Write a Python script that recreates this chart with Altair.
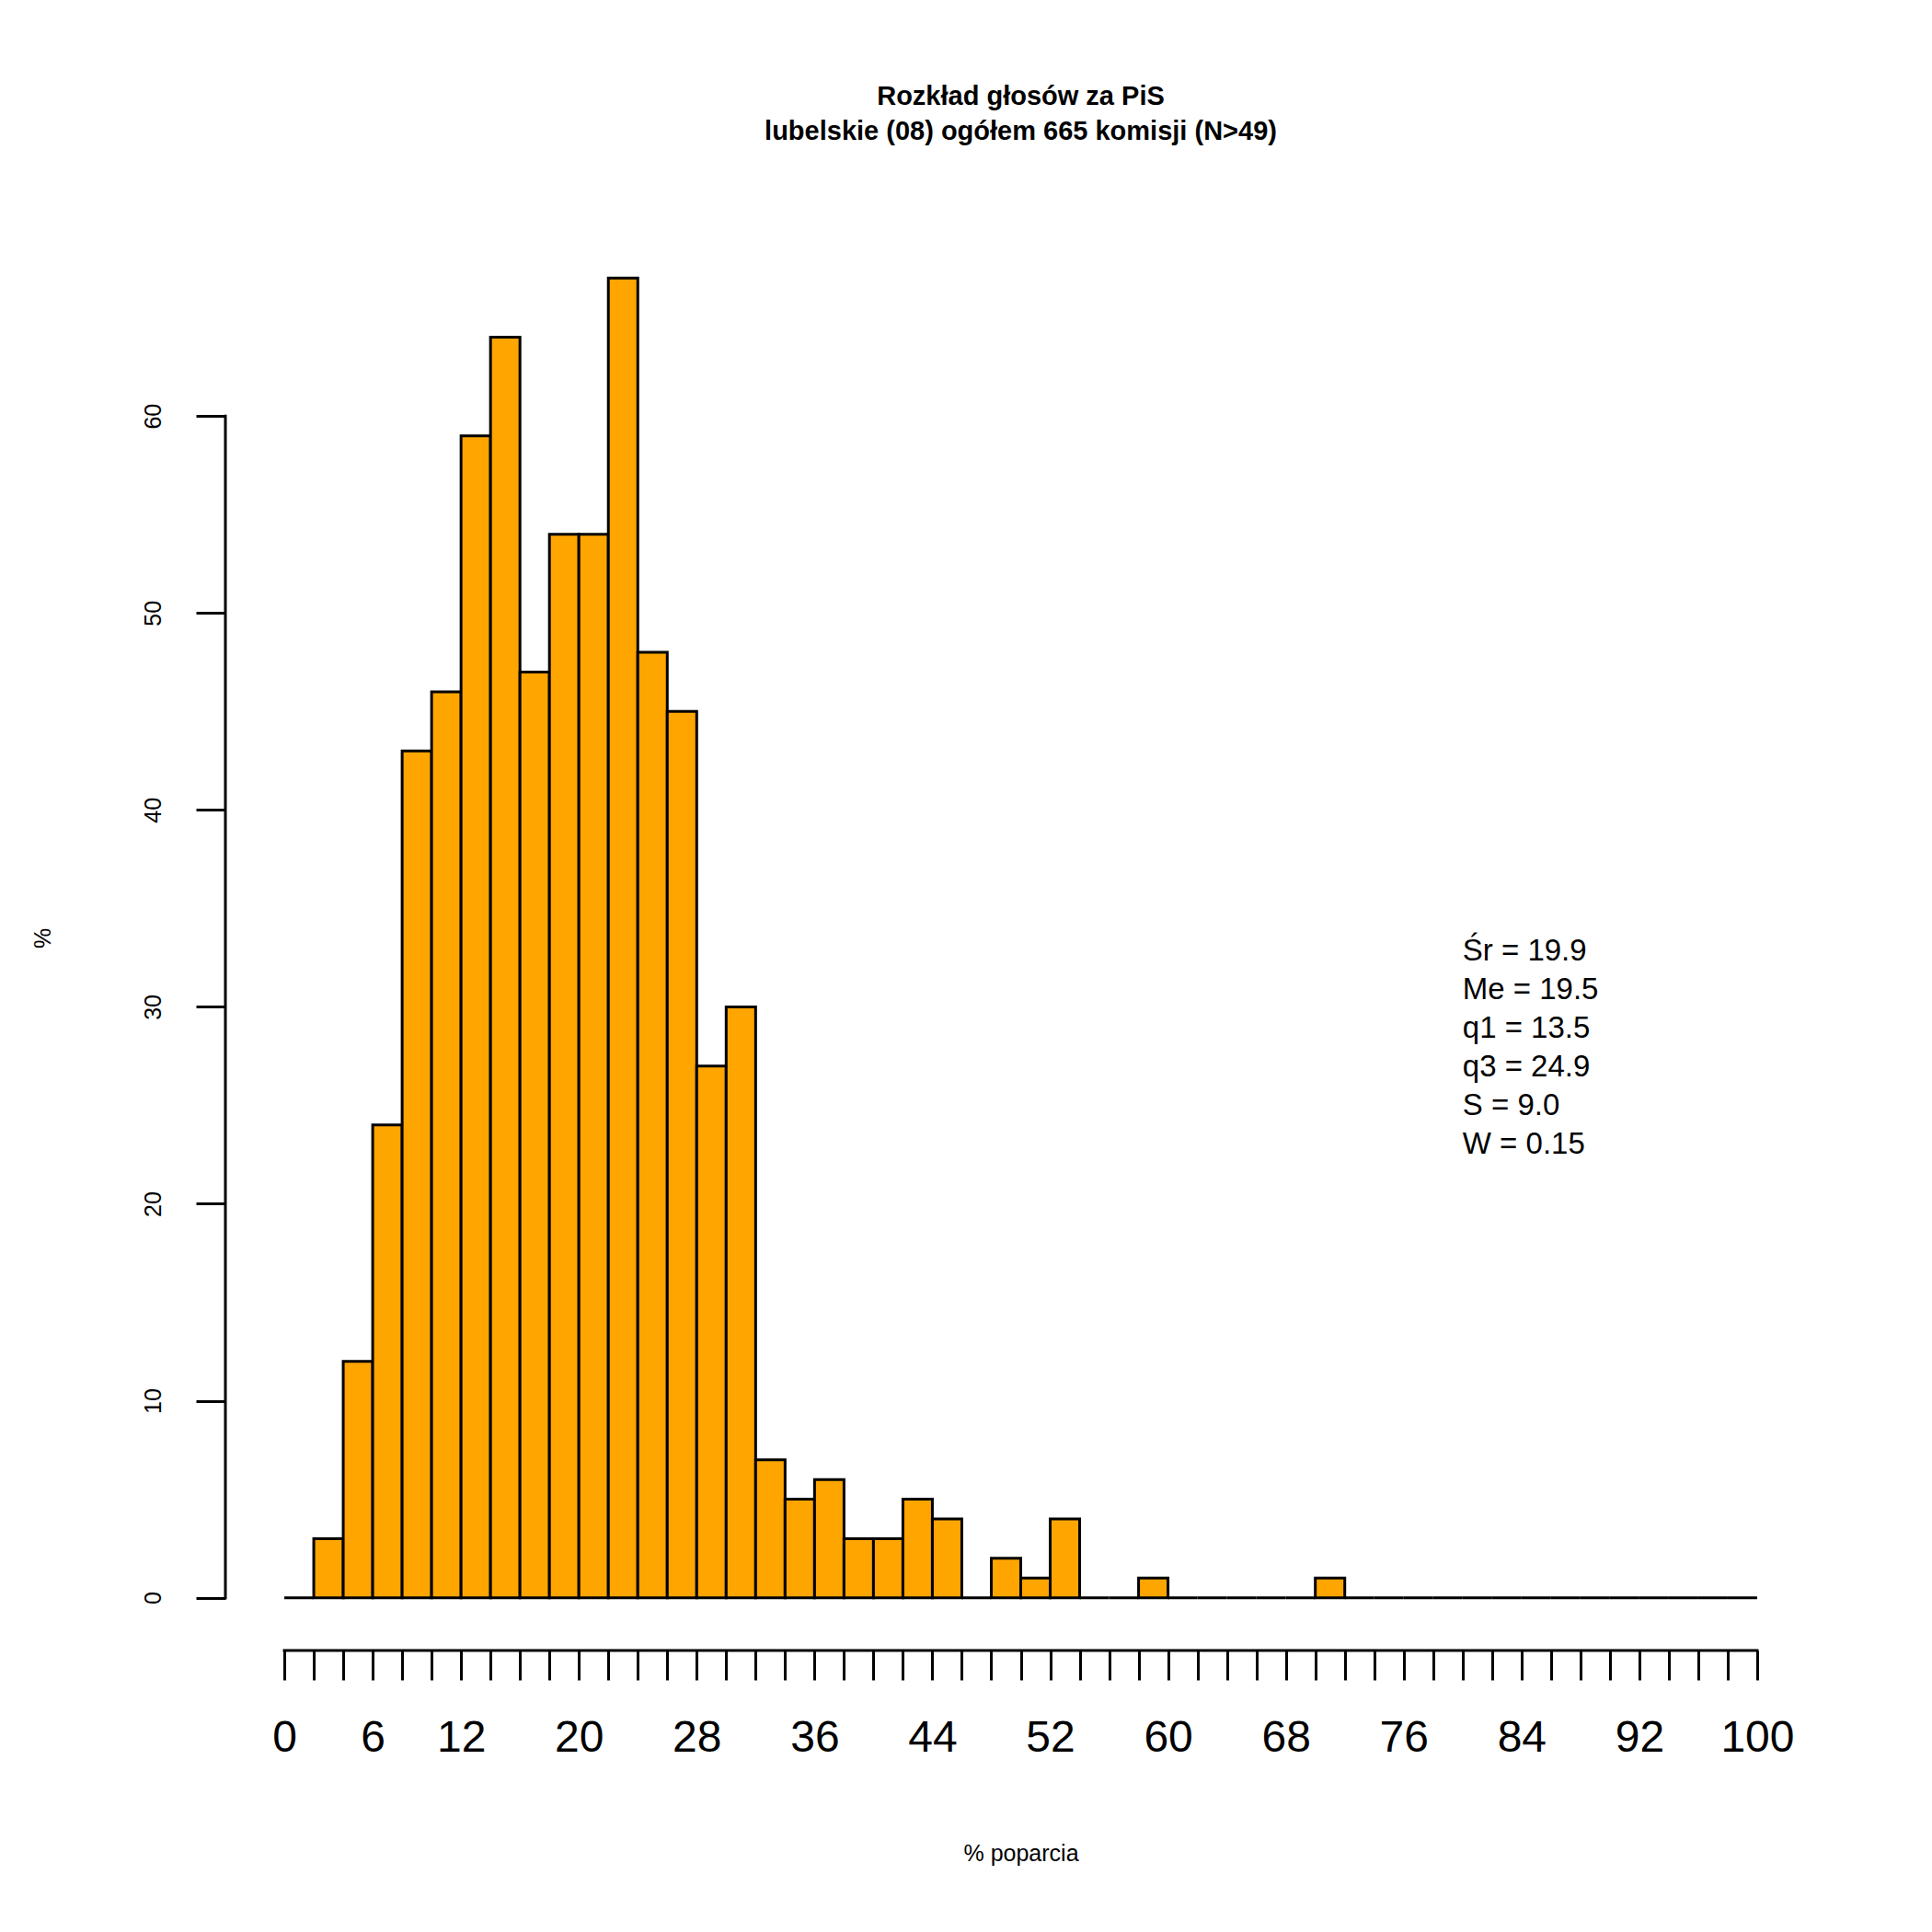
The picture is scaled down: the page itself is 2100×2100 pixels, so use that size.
import json
import altair as alt
import pandas as pd

# ---------------- data ----------------
bin_starts = list(range(0, 100, 2))
counts = [0, 3, 12, 24, 43, 46, 59, 64, 47, 54,
          54, 67, 48, 45, 27, 30, 7, 5, 6, 3,
          3, 5, 4, 0, 2, 1, 4, 0, 0, 1,
          0, 0, 0, 0, 0, 1, 0, 0, 0, 0,
          0, 0, 0, 0, 0, 0, 0, 0, 0, 0]
bin_width = 2
x_tick_values = list(range(0, 101, 2))
x_label_values = [0, 6, 12, 20, 28, 36, 44, 52, 60, 68, 76, 84, 92, 100]
y_tick_values = [0, 10, 20, 30, 40, 50, 60]
stats_lines = ["Śr = 19.9", "Me = 19.5", "q1 = 13.5", "q3 = 24.9", "S = 9.0", "W = 0.15"]
title_lines = ["Rozkład głosów za PiS", "lubelskie (08) ogółem 665 komisji (N>49)"]
x_title = "% poparcia"
y_title = "%"
stats_pos = (80, 32.37)

# ---------------- layout ----------------
FONT = "Liberation Sans"
W, H = 1729, 1549
x_dom = [-4, 104]
y_dom = [-2.68, 69.68]

df = pd.DataFrame({
    "start": bin_starts,
    "end": [b + bin_width for b in bin_starts],
    "zero": [0] * len(bin_starts),
    "count": counts,
})

xs = alt.Scale(domain=x_dom, nice=False, zero=False)
ys = alt.Scale(domain=y_dom, nice=False, zero=False)

label_expr = "indexof(%s, datum.value) >= 0 ? datum.label : ''" % json.dumps(x_label_values)

x_axis = alt.Axis(
    values=x_tick_values, tickCount=len(x_tick_values) + 10, domain=False, grid=False,
    tickSize=32, tickWidth=3, tickColor="black",
    labelExpr=label_expr, labelFontSize=48, labelColor="black", labelFont=FONT,
    labelPadding=39, labelFlush=False, labelOverlap=False,
    title=x_title, titleFontSize=25, titleFontWeight="normal", titleColor="black",
    titleFont=FONT, titleX=W / 2, titleY=228, titleAlign="center",
    titleBaseline="alphabetic",
)
y_axis = alt.Axis(
    values=y_tick_values, tickCount=len(y_tick_values) + 5, domain=False, grid=False,
    tickSize=32, tickWidth=3, tickColor="black",
    labelAngle=270, labelAlign="center", labelBaseline="bottom",
    labelFontSize=25, labelColor="black", labelFont=FONT, labelPadding=34,
    labelFlush=False, labelOverlap=False,
    title=y_title, titleFontSize=25, titleFontWeight="normal", titleColor="black",
    titleFont=FONT, titleAngle=270, titleX=-199, titleY=H / 2,
    titleAlign="center", titleBaseline="middle",
)

bars = alt.Chart(df).mark_rect(fill="#FFA500", stroke="black", strokeWidth=3).encode(
    x=alt.X("start:Q", scale=xs, axis=x_axis),
    x2="end:Q",
    y=alt.Y("zero:Q", scale=ys, axis=y_axis),
    y2="count:Q",
)

x_line = alt.Chart(pd.DataFrame({"start": [x_tick_values[0]], "end": [x_tick_values[-1]]})).mark_rule(
    strokeWidth=3, color="black", strokeCap="square"
).encode(
    x=alt.X("start:Q", scale=xs),
    x2="end:Q",
    y=alt.value(H),
)

y_line = alt.Chart(pd.DataFrame({"zero": [y_tick_values[0]], "count": [y_tick_values[-1]]})).mark_rule(
    strokeWidth=3, color="black", strokeCap="square"
).encode(
    y=alt.Y("zero:Q", scale=ys),
    y2="count:Q",
    x=alt.value(0),
)

stats = alt.Chart(pd.DataFrame({"a": [0]})).mark_text(
    text=stats_lines, align="left", baseline="alphabetic",
    fontSize=33, lineHeight=42, font=FONT, color="black",
).encode(
    x=alt.datum(stats_pos[0]),
    y=alt.datum(stats_pos[1]),
)

chart = alt.layer(bars, x_line, y_line, stats).properties(
    width=W,
    height=H,
    title=alt.Title(
        text=title_lines, fontSize=29, fontWeight="bold", font=FONT, color="black",
        lineHeight=38, anchor="middle", frame="group", baseline="bottom", offset=58,
    ),
    autosize=alt.AutoSizeParams(type="none"),
    padding={"left": 237, "top": 237, "right": 118, "bottom": 298},
).configure(font=FONT, background="white").configure_view(stroke=None)

chart.save("out.html", embed_options={"renderer": "svg", "actions": False})
